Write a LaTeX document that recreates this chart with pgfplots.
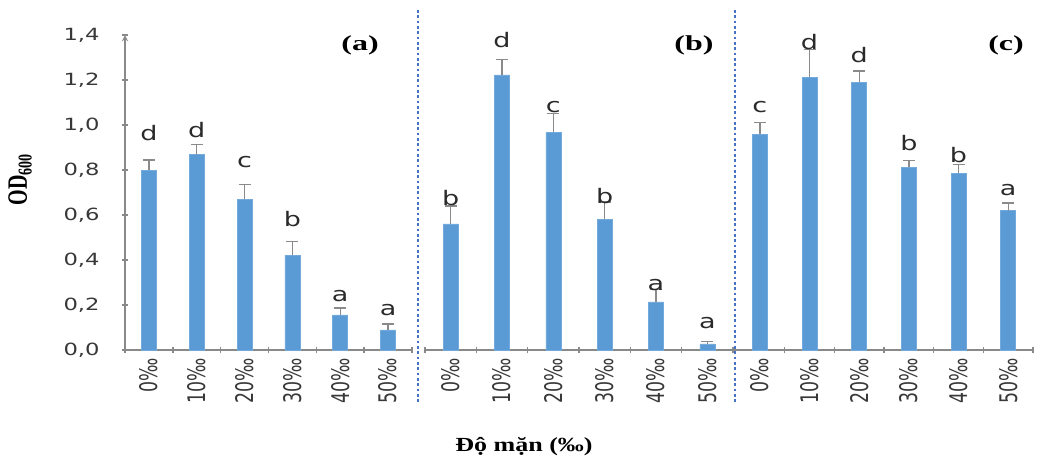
\documentclass[border=0pt]{standalone}
\usepackage{pgfplots}
\pgfplotsset{compat=1.18}
\usepackage{fontspec}
\setmainfont{DejaVu Sans}
\newfontfamily\serifb{Liberation Serif}
\usepackage{graphicx}
\definecolor{barblue}{HTML}{5B9BD5}
\definecolor{errgray}{HTML}{8A8A8A}
\definecolor{axisgray}{HTML}{898989}
\definecolor{dotblue}{HTML}{4472C4}
\definecolor{ticktext}{HTML}{383838}
\definecolor{lettertext}{HTML}{2A2A2A}
\newcommand{\sx}[1]{\scalebox{1.35}[1]{#1}}
\newcommand{\sy}[1]{\scalebox{1}[1.4]{#1}}
\pgfplotsset{
  panel/.style={
    scale only axis, anchor=south west, height=236.25pt,
    xmin=0.5, xmax=6.5, ymin=0, ymax=1.4,
    xtick={0.5,1.5,...,6.5}, x tick label as interval,
    xticklabels={\sy{0‰},\sy{10‰},\sy{20‰},\sy{30‰},\sy{40‰},\sy{50‰}},
    xticklabel style={rotate=90, anchor=east, font=\fontsize{13}{14}\selectfont, text=ticktext},
    tick align=outside, major tick length=5pt,
    tick style={axisgray, line width=1.1pt},
    axis x line=bottom,
    axis line style={axisgray, line width=1.1pt, -},
    clip=false,
  },
  bars/.style={ybar, bar width=11.25pt, fill=barblue, draw=barblue!85!white, line width=0.4pt,
    error bars/.cd, y dir=plus, y explicit,
    error bar style={errgray, line width=1pt},
    error mark options={rotate=90, errgray, line width=1pt, mark size=4.5pt}},
  letters/.style={draw=none, mark=none, nodes near coords={\sx{\pgfplotspointmeta}},
    point meta=explicit symbolic,
    nodes near coords style={anchor=center, font=\fontsize{15}{16}\selectfont, text=lettertext}},
}
\begin{document}
\begin{tikzpicture}
\path[use as bounding box] (0,0) rectangle (792.75pt,-351pt);

% (a)
\begin{axis}[panel, width=215.25pt, at={(93.75pt,-262.5pt)},
  axis y line=left,
  ytick={0,0.2,0.4,0.6,0.8,1.0,1.2,1.4},
  yticklabel={\sx{\pgfmathprintnumber{\tick}}},
  yticklabel style={font=\fontsize{12.6}{14}\selectfont, text=ticktext, xshift=-13pt,
    /pgf/number format/.cd, use comma, fixed, fixed zerofill, precision=1, assume math mode=true},
]
\addplot[bars] coordinates {
  (1,0.800) +- (0,0.045)
  (2,0.868) +- (0,0.045)
  (3,0.669) +- (0,0.066)
  (4,0.422) +- (0,0.060)
  (5,0.156) +- (0,0.030)
  (6,0.089) +- (0,0.026)
};
\addplot[letters] table[meta=l] {
x y l
1 0.964 d
2 0.979 d
3 0.834 c
4 0.583 b
5 0.240 a
6 0.178 a
};
\end{axis}

% (b)
\begin{axis}[panel, width=231pt, at={(318.75pt,-262.5pt)},
  axis y line=none, ytick=\empty]
\addplot[bars] coordinates {
  (1,0.561) +- (0,0.079)
  (2,1.223) +- (0,0.067)
  (3,0.968) +- (0,0.084)
  (4,0.581) +- (0,0.077)
  (5,0.214) +- (0,0.056)
  (6,0.027) +- (0,0.010)
};
\addplot[letters] table[meta=l] {
x y l
1 0.675 b
2 1.378 d
3 1.079 c
4 0.686 b
5 0.290 a
6 0.118 a
};
\end{axis}

% (c)
\begin{axis}[panel, width=223.5pt, at={(551.25pt,-262.5pt)},
  axis y line=none, ytick=\empty]
\addplot[bars] coordinates {
  (1,0.960) +- (0,0.052)
  (2,1.212) +- (0,0.125)
  (3,1.190) +- (0,0.050)
  (4,0.812) +- (0,0.030)
  (5,0.785) +- (0,0.039)
  (6,0.620) +- (0,0.033)
};
\addplot[letters] table[meta=l] {
x y l
1 1.079 c
2 1.370 d
3 1.311 d
4 0.919 b
5 0.868 b
6 0.713 a
};
\end{axis}

% dotted separators
\draw[dotblue, line width=2pt, dash pattern=on 2pt off 2pt] (313.5pt,-7.5pt) -- (313.5pt,-301.5pt);
\draw[dotblue, line width=2pt, dash pattern=on 2pt off 2pt] (551.25pt,-7.5pt) -- (551.25pt,-301.5pt);

% panel labels
\node[font=\serifb\bfseries\fontsize{16}{17}\selectfont] at (270pt,-33.75pt) {\scalebox{1.5}[1]{(a)}};
\node[font=\serifb\bfseries\fontsize{16}{17}\selectfont] at (520.5pt,-33.75pt) {\scalebox{1.5}[1]{(b)}};
\node[font=\serifb\bfseries\fontsize{16}{17}\selectfont] at (754.5pt,-33.75pt) {\scalebox{1.5}[1]{(c)}};

% axis titles
\node[rotate=90, font=\serifb\bfseries] at (15pt,-135pt)
  {\scalebox{1}[1.4]{{\fontsize{15}{17}\selectfont OD}\raisebox{-2.5pt}{\fontsize{10.5}{11}\selectfont 600}}};
\node[font=\serifb\bfseries\fontsize{15}{17}\selectfont] at (393pt,-335pt) {\scalebox{1.3}[1]{Độ mặn (‰)}};
\end{tikzpicture}
\end{document}
